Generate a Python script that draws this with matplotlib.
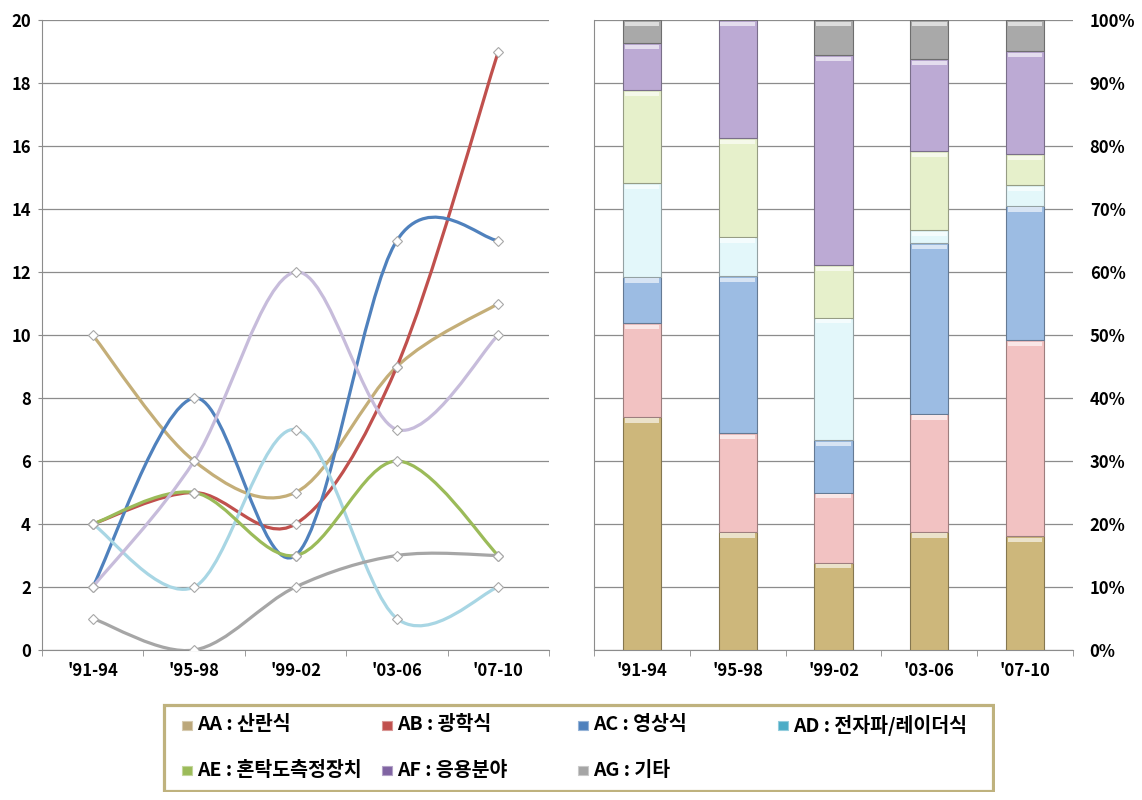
import numpy as np
import matplotlib
matplotlib.use('Agg')
import matplotlib.pyplot as plt
import matplotlib.patches as mpatches
from matplotlib.path import Path
from matplotlib.colors import to_rgb

plt.rcParams['font.family'] = ['Noto Sans CJK KR', 'DejaVu Sans']

# data (counts per period)
periods = ["'91-94", "'95-98", "'99-02", "'03-06", "'07-10"]
names = ['AA : 산란식', 'AB : 광학식', 'AC : 영상식', 'AD : 전자파/레이더식',
         'AE : 혼탁도측정장치', 'AF : 응용분야', 'AG : 기타']
aa = [10, 6, 5, 9, 11]
ab = [4, 5, 4, 9, 19]
ac = [2, 8, 3, 13, 13]
ad = [4, 2, 7, 1, 2]
ae = [4, 5, 3, 6, 3]
af = [2, 6, 12, 7, 10]
ag = [1, 0, 2, 3, 3]
series = [aa, ab, ac, ad, ae, af, ag]

line_colors = ['#C4AE78', '#C0504D', '#4F81BD', '#A8D6E4', '#9BBB59', '#C7BCDB', '#A6A6A6']
bar_colors = ['#CDB77B', '#F2C2C2', '#9CBCE3', '#E3F7FA', '#E6F0CB', '#BCAAD4', '#A9A9A9']
legend_colors = ['#BBA77A', '#C0504D', '#4F81BD', '#4BACC6', '#9BBB59', '#8064A2', '#A5A5A5']
grid_c = '#8C8C8C'


def smooth_path(x, y):
    # bezier like excel's smoothed line
    pts = np.column_stack([x, y]).astype(float)
    ext = np.vstack([pts[0], pts, pts[-1]])
    verts = [pts[0]]
    codes = [Path.MOVETO]
    for i in range(len(pts) - 1):
        p0, p1, p2, p3 = ext[i], ext[i + 1], ext[i + 2], ext[i + 3]
        verts += [p1 + (p2 - p0) / 6, p2 - (p3 - p1) / 6, p2]
        codes += [Path.CURVE4] * 3
    return Path(verts, codes)


def mix(c, other, t):
    c = np.array(to_rgb(c))
    o = np.array(to_rgb(other))
    return tuple(c * (1 - t) + o * t)


fig = plt.figure(figsize=(11.42, 8), dpi=100)
W, H = 1142, 800
x = np.arange(len(periods))

# ---- left: smoothed lines
ax1 = fig.add_axes([42 / W, 150 / H, 507 / W, 630 / H])
for vals, c in zip(series, line_colors):
    patch = mpatches.PathPatch(smooth_path(x, vals), fill=False, edgecolor=c,
                               lw=2.3, capstyle='round', joinstyle='round', zorder=3)
    ax1.add_patch(patch)
for vals in series:
    ax1.plot(x, vals, 'D', mfc='white', mec='#A8A8A8', mew=0.8, ms=5, zorder=4)
ax1.set_xlim(-0.5, 4.5)
ax1.set_ylim(0, 20)
ax1.set_yticks(np.arange(0, 21, 2))
ax1.yaxis.grid(True, color=grid_c, lw=0.9)
ax1.set_axisbelow(True)

# ---- right: 100% stacked bars
ax2 = fig.add_axes([594 / W, 150 / H, 479 / W, 630 / H])
totals = np.sum(np.array(series), axis=0)
bottom = np.zeros(len(periods))
for vals, c in zip(series, bar_colors):
    pct = np.array(vals) / totals * 100
    ax2.bar(x, pct, 0.4, bottom=bottom, color=c, edgecolor=mix(c, 'black', 0.35),
            lw=0.8, zorder=3)
    hl = np.minimum(pct, 0.7)
    ax2.bar(x, hl, 0.36, bottom=bottom + pct - hl - 0.25, color=mix(c, 'white', 0.6),
            lw=0, zorder=4)
    bottom += pct
ax2.set_xlim(-0.5, 4.5)
ax2.set_ylim(0, 100)
ax2.set_yticks(np.arange(0, 101, 10))
ax2.set_yticklabels(['%d%%' % v for v in range(0, 101, 10)])
ax2.yaxis.tick_right()
ax2.yaxis.grid(True, color=grid_c, lw=0.9)
ax2.set_axisbelow(True)

for ax in (ax1, ax2):
    ax.spines['top'].set_visible(False)
    ax.spines['right'].set_visible(False)
    ax.spines['left'].set_color(grid_c)
    ax.spines['bottom'].set_color(grid_c)
    ax.set_xticks(x)
    ax.set_xticklabels(periods)
    ax.set_xticks(np.arange(-0.5, 5, 1), minor=True)
    ax.tick_params(axis='x', which='major', length=0, pad=9)
    ax.tick_params(axis='x', which='minor', length=4, color=grid_c, direction='out')
    for lab in ax.get_xticklabels() + ax.get_yticklabels():
        lab.set_fontsize(12)
        lab.set_fontweight('bold')
ax1.tick_params(axis='y', length=3, color=grid_c, pad=5)
ax2.tick_params(axis='y', length=0, pad=12)

# ---- legend box
lax = fig.add_axes([162 / W, 8 / H, 833 / W, 89 / H])
lax.set_xlim(0, 833)
lax.set_ylim(89, 0)
lax.axis('off')
lax.add_patch(mpatches.Rectangle((1.5, 1.5), 830, 86, fill=False,
                                 edgecolor='#BFB27E', lw=2.3))
col_x = [20, 220, 416, 616]
row_y = [22, 67]
for i, (name, c) in enumerate(zip(names, legend_colors)):
    cx = col_x[i % 4]
    cy = row_y[i // 4]
    lax.add_patch(mpatches.Rectangle((cx, cy - 4.5), 10, 9, facecolor=c,
                                     edgecolor=mix(c, 'white', 0.4), lw=0.8))
    lax.text(cx + 15, cy, name, fontsize=14, fontweight='bold', va='center', ha='left')

fig.savefig('out.png', dpi=100)
